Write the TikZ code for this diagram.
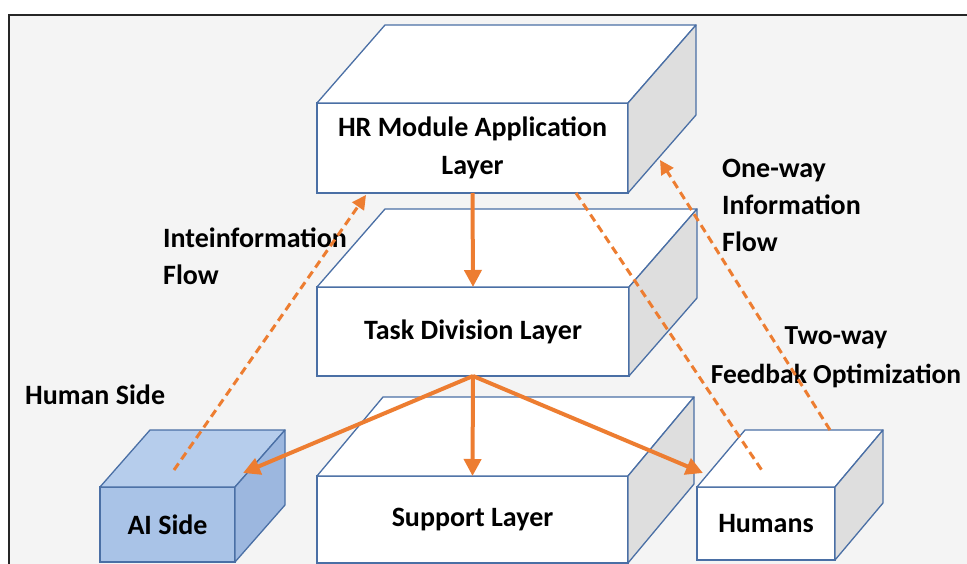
\documentclass[tikz,border=0pt]{standalone}
\usepackage{fontspec}
\setmainfont{Carlito}
\usetikzlibrary{arrows.meta,calc}
\definecolor{edge}{HTML}{4A6FA5}
\definecolor{sidegray}{HTML}{DEDEDE}
\definecolor{orng}{HTML}{ED7D31}
\definecolor{aifront}{HTML}{A9C3E7}
\definecolor{aitop}{HTML}{B6CDEC}
\definecolor{airight}{HTML}{9CB7DF}
\definecolor{bg}{HTML}{F4F4F4}
\tikzset{
  front/.style={draw=edge, line width=1.3pt, fill=white, inner sep=0pt, outer sep=0pt,
    align=center, font=\fontsize{28}{38}\selectfont\bfseries},
  face/.style={draw=edge, line width=1.3pt, line join=round},
  solidarrow/.style={draw=orng, line width=4pt, -{Triangle[length=17pt,width=17pt]}},
  dasharrow/.style={draw=orng, line width=3pt, dash pattern=on 8pt off 5pt, -{Triangle[length=14pt,width=14pt]}},
  dashline/.style={draw=orng, line width=3pt, dash pattern=on 8pt off 5pt},
  lbl/.style={font=\fontsize{28}{37}\selectfont\bfseries, inner sep=0pt}
}
\newcommand{\cubefaces}[5]{%
  \filldraw[face, fill=#4] (#1.north west) -- ++(#2,#3) -- ($(#1.north east)+(#2,#3)$) -- (#1.north east) -- cycle;
  \filldraw[face, fill=#5] (#1.north east) -- ++(#2,#3) -- ($(#1.south east)+(#2,#3)$) -- (#1.south east) -- cycle;
}
\begin{document}
\begin{tikzpicture}[x=1pt, y=-1pt]
\useasboundingbox (0,0) rectangle (967,564);
\fill[white] (0,0) rectangle (967,564);
\fill[bg] (9,15) rectangle (967,564);
\draw[line width=2pt, black!85] (9,564) -- (9,15) -- (967,15);

% boxes
\node[front, minimum width=311pt, minimum height=90pt] (HR) at (472.5,148) {HR Module Application\\Layer};
\cubefaces{HR}{68}{-78}{white}{sidegray}
\node[front, minimum width=312pt, minimum height=89pt] (TD) at (473,331.5) {Task Division Layer};
\cubefaces{TD}{68}{-78}{white}{sidegray}
\node[front, minimum width=311pt, minimum height=87pt] (SL) at (472.5,519.5) {Support Layer};
\cubefaces{SL}{66}{-79}{white}{sidegray}
\node[front, fill=aifront, minimum width=135pt, minimum height=75pt] (AI) at (167.5,524.5) {AI Side};
\cubefaces{AI}{50}{-57}{aitop}{airight}
\node[front, minimum width=138pt, minimum height=73pt] (HU) at (766,523.5) {Humans};
\cubefaces{HU}{48}{-57}{white}{sidegray}

% labels
\node[lbl, anchor=west] (hs) at (25,395) {Human Side};
\node[lbl, anchor=west, align=left] (inf) at (163,256) {Inteinformation\\Flow};
\node[lbl, anchor=west, align=left] (ow) at (722,205) {One-way\\Information\\Flow};
\node[lbl, align=center, font=\fontsize{27.5}{39}\selectfont\bfseries] (tw) at (836,357) {Two-way\\Feedbak Optimization};

% connector end points
\coordinate (aiTip) at (243,473);
\coordinate (huTip) at (703,473);
\coordinate (aiTop) at (174,470);
\coordinate (hrIn) at (366,195);
\coordinate (huTop) at (830,430);
\coordinate (hrSide) at (660,160);
\coordinate (hrOut) at (576,193);
\coordinate (huIn) at (763,472);

% solid arrows
\draw[solidarrow] (HR.south) -- (TD.north);
\draw[solidarrow] (TD.south) -- (aiTip);
\draw[solidarrow] (TD.south) -- (SL.north);
\draw[solidarrow] (TD.south) -- (huTip);

% dashed
\draw[dasharrow] (aiTop) -- (hrIn);
\draw[dasharrow] (huTop) -- (hrSide);
\draw[dashline] (hrOut) -- (huIn);
\end{tikzpicture}
\end{document}
